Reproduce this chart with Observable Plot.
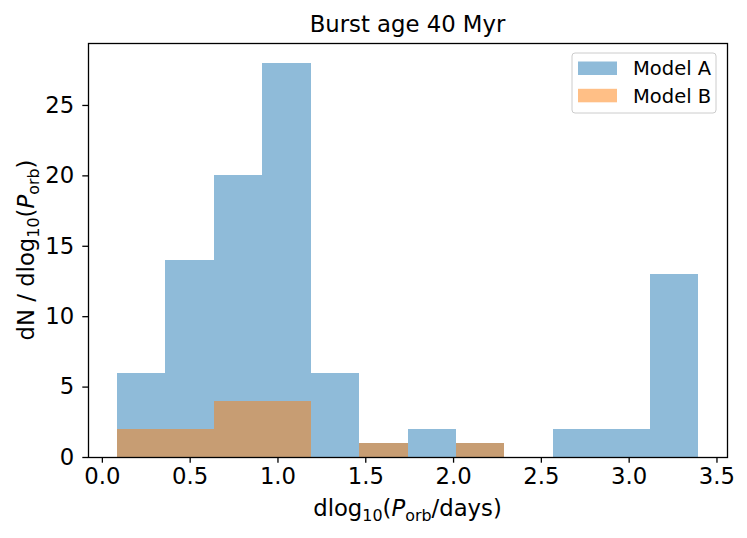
<!DOCTYPE html>
<html><head><meta charset="utf-8">
<script src="https://cdn.jsdelivr.net/npm/d3@7"></script>
<script src="https://cdn.jsdelivr.net/npm/@observablehq/plot@0.6"></script>
<style>body{margin:0;background:#fff;} svg{display:block}</style>
</head><body><div id="chart"></div>
<script>
const binEdges = [0.086, 0.362, 0.638, 0.913, 1.189, 1.465, 1.741, 2.016, 2.292, 2.568, 2.844, 3.119, 3.395];
const modelA = [6, 14, 20, 28, 6, 1, 2, 1, 0, 2, 2, 13];
const modelB = [2, 2, 4, 4, 0, 1, 0, 1, 0, 0, 0, 0];
const seriesNames = ["Model A", "Model B"];
const seriesColors = ["#1f77b4", "#ff7f0e"];
const xTicks = [0, 0.5, 1, 1.5, 2, 2.5, 3, 3.5];
const yTicks = [0, 5, 10, 15, 20, 25];
const titleText = "Burst age 40 Myr";

const W = 747, H = 538;
const mL = 88, mR = 20, mT = 43, mB = 81;
const FONT = "DejaVu Sans";
const tickFs = 22.75;
const labelFs = 22.75;
const titleFs = 22.75;
const legendFs = 19.5;

function rows(vals, name) {
  return vals.map((v, i) => ({x1: binEdges[i], x2: binEdges[i + 1], y: v, series: name})).filter(d => d.y > 0);
}
const rowsA = rows(modelA, seriesNames[0]);
const rowsB = rows(modelB, seriesNames[1]);

const plot = Plot.plot({
  width: W, height: H,
  marginLeft: mL, marginRight: mR, marginTop: mT, marginBottom: mB,
  style: {fontFamily: FONT, fontSize: tickFs + "px", color: "black", background: "white"},
  x: {domain: [-0.079, 3.56]},
  y: {domain: [0, 29.4]},
  marks: [
    Plot.rectY(rowsA, {x1: "x1", x2: "x2", y1: 0, y2: "y", fill: seriesColors[0], fillOpacity: 0.5, shapeRendering: "crispEdges"}),
    Plot.rectY(rowsB, {x1: "x1", x2: "x2", y1: 0, y2: "y", fill: seriesColors[1], fillOpacity: 0.5, shapeRendering: "crispEdges"}),
    Plot.frame({stroke: "black", strokeWidth: 1.3}),
    Plot.axisX({ticks: xTicks, tickFormat: d => d.toFixed(1), tickSize: 5.7, tickPadding: 5, strokeWidth: 1.3, label: null}),
    Plot.axisY({ticks: yTicks, tickFormat: d => String(d), tickSize: 5.7, tickPadding: 8.5, strokeWidth: 1.3, label: null})
  ]
});
document.getElementById("chart").appendChild(plot);

const svg = d3.select(plot);
svg.selectAll('g[aria-label="x-axis tick label"], g[aria-label="y-axis tick label"]')
  .style("font-size", tickFs + "px").style("font-family", FONT);

const cx = mL + (W - mL - mR) / 2;
const cy = mT + (H - mT - mB) / 2;

function txt(sel) {
  return sel.style("font-family", FONT).attr("fill", "black");
}

// title
txt(svg.append("text")).attr("x", cx).attr("y", 31.5).attr("text-anchor", "middle")
  .style("font-size", titleFs + "px").text(titleText);

function subLabel(t, parts) {
  parts.forEach(([s, kind]) => {
    const sp = t.append("tspan").text(s);
    if (kind === "sub") sp.style("font-size", (labelFs * 0.7) + "px").attr("dy", 5);
    else if (kind === "it") sp.style("font-style", "italic").attr("dy", -5);
  });
}

// x label
const xl = txt(svg.append("text")).attr("x", cx).attr("y", 516).attr("text-anchor", "middle")
  .style("font-size", labelFs + "px");
subLabel(xl, [["dlog", ""], ["10", "sub"], ["(", "back"], ["P", "it0"], ["orb", "sub"], ["/days)", "back"]]);

// y label
const yl = txt(svg.append("text")).attr("transform", `translate(34,${cy}) rotate(-90)`).attr("text-anchor", "middle")
  .style("font-size", labelFs + "px");
subLabel(yl, [["dN / dlog", ""], ["10", "sub"], ["(", "back"], ["P", "it0"], ["orb", "sub"], [")", "back"]]);

[xl, yl].forEach(t => {
  t.selectAll("tspan").each(function(d, i, nodes) {
    const s = d3.select(this);
    const txtv = s.text();
    if (txtv === "P") s.style("font-style", "italic");
  });
  // subscripts drop, following text returns to baseline
  let prevSub = false;
  t.selectAll("tspan").each(function() {
    const s = d3.select(this);
    const isSub = s.attr("dy") === "5";
    if (!isSub && prevSub) s.attr("dy", -5);
    prevSub = isSub;
  });
});

// legend
const lg = svg.append("g");
lg.append("rect").attr("x", 572).attr("y", 53).attr("width", 144).attr("height", 60).attr("rx", 3)
  .attr("fill", "white").attr("fill-opacity", 0.8).attr("stroke", "#cccccc").attr("stroke-width", 1);
seriesNames.forEach((n, i) => {
  const y0 = 61.5 + i * 27.3;
  lg.append("rect").attr("x", 578).attr("y", y0).attr("width", 39).attr("height", 13.5)
    .attr("fill", seriesColors[i]).attr("fill-opacity", 0.5);
  txt(lg.append("text")).attr("x", 633).attr("y", y0 + 13.8).attr("text-anchor", "start")
    .style("font-size", legendFs + "px").text(n);
});
</script>
</body></html>
